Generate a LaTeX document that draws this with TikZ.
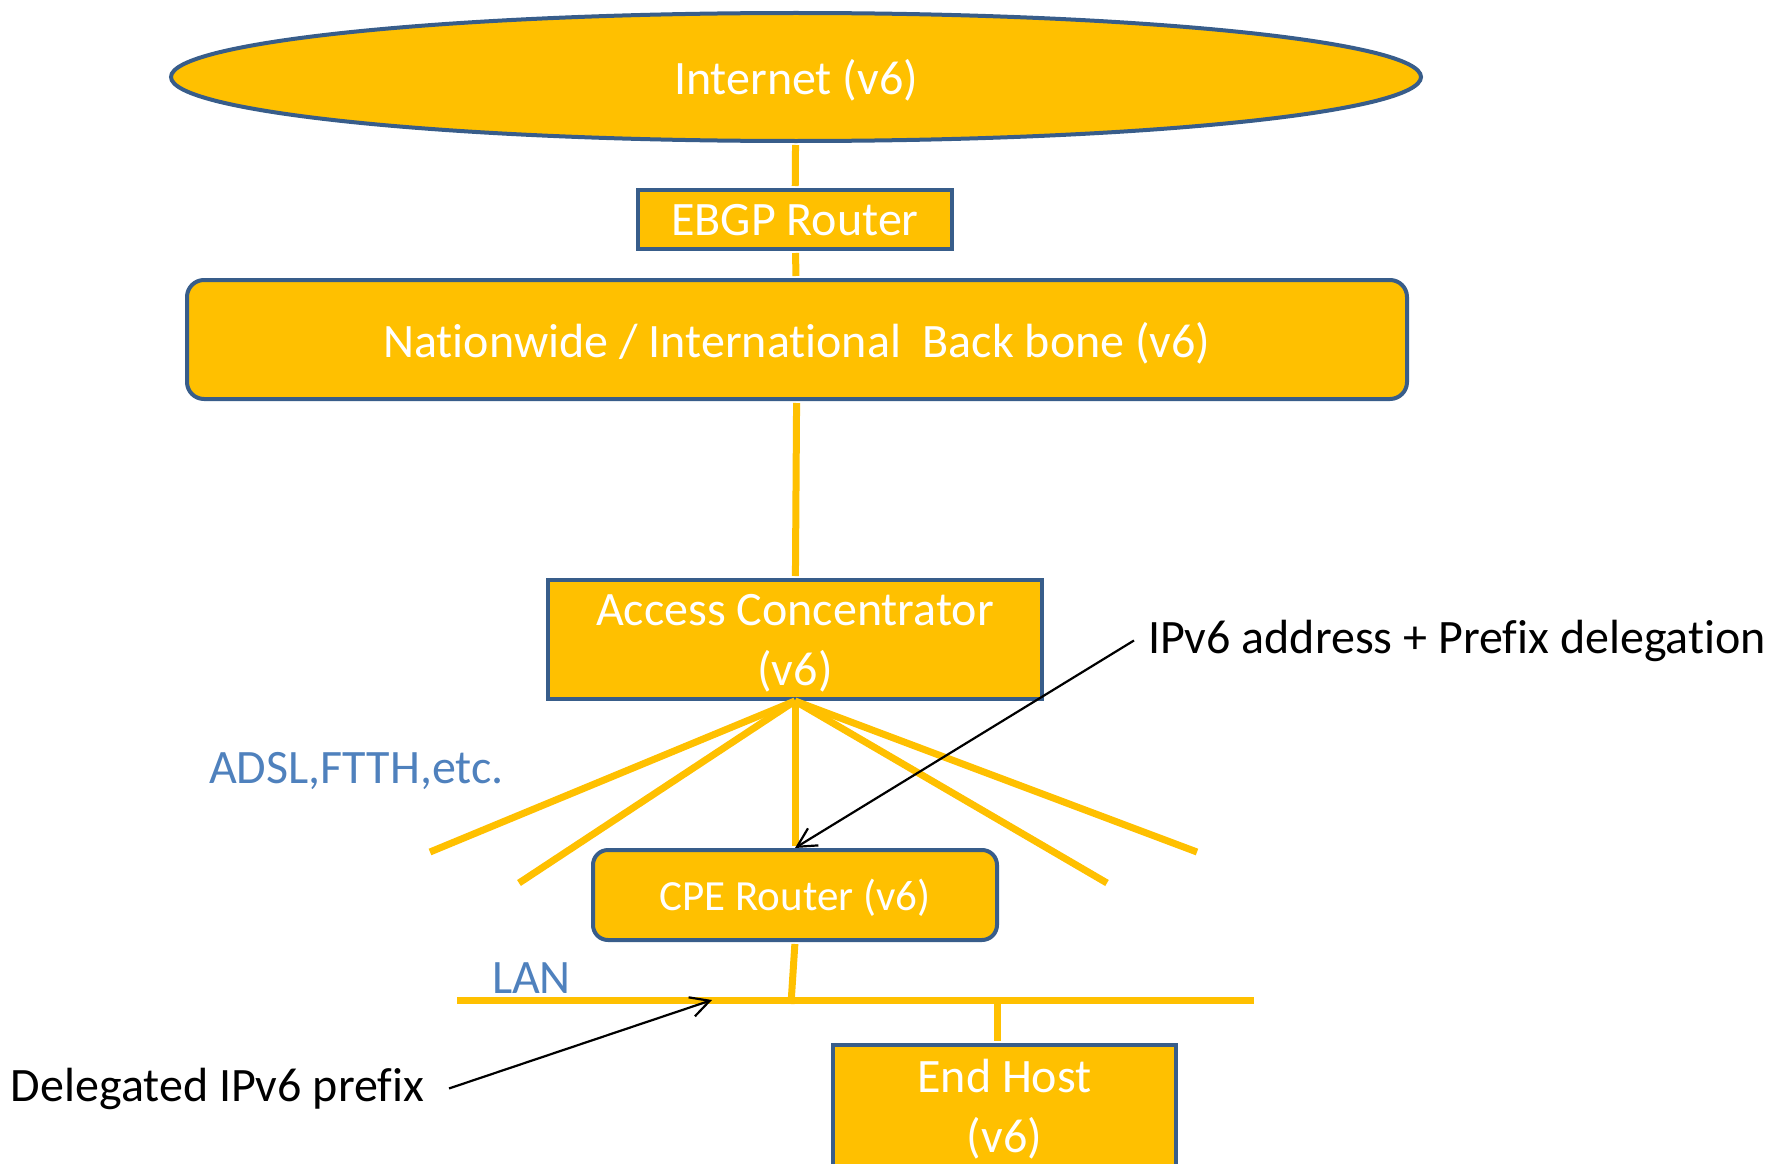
\documentclass[tikz,border=0pt]{standalone}
\usepackage{fontspec}
\setmainfont{Carlito}[Ligatures=NoCommon]
\usetikzlibrary{shapes.geometric,arrows.meta}

\definecolor{netfill}{RGB}{255,192,0}
\definecolor{netline}{RGB}{56,93,138}
\definecolor{netblue}{RGB}{79,129,189}

\tikzset{every picture/.style={line width=4pt}}
\tikzset{
  bigfont/.style={font=\fontsize{48}{60}\selectfont},
  netbox/.style={draw=netline, fill=netfill, text=white, line width=4pt, inner sep=0pt, text depth=0pt, align=center, bigfont},
  link/.style={draw=netfill, line width=7pt},
  pointer/.style={draw=black, line width=2.2pt, -{Straight Barb[length=19pt,width=20pt]}},
}

\begin{document}
\begin{tikzpicture}[x=1pt,y=-1pt]
\useasboundingbox (0,0) rectangle (1773,1164);

%Shape: Ellipse [id:inet]
\node [netbox, ellipse, minimum width=1250pt, minimum height=128pt] (inet) at (796,77) {Internet (v6)};
%Shape: Rectangle [id:ebgp]
\node [netbox, minimum width=314pt, minimum height=59pt] (ebgp) at (795,219.5) {EBGP Router};
%Shape: Rounded Rectangle [id:bb]
\node [netbox, rounded corners=17pt, minimum width=1220pt, minimum height=119pt] (bb) at (797,339.5) {Nationwide / International\ \ Back bone (v6)};
%Shape: Rectangle [id:ac]
\node [netbox, minimum width=494pt, minimum height=119pt] (ac) at (795,639.5) {Access Concentrator\\(v6)};
%Shape: Rounded Rectangle [id:cpe]
\node [netbox, rounded corners=15pt, minimum width=404pt, minimum height=90pt, font=\fontsize{43}{52}\selectfont] (cpe) at (795,895) {CPE Router (v6)};
%Shape: Rectangle [id:host]
\node [netbox, minimum width=343pt, minimum height=122pt] (host) at (1004.5,1106) {End Host\\(v6)};

%free ends of the access lines and the LAN
\coordinate (fanA) at (430,852);
\coordinate (fanB) at (519,883);
\coordinate (fanC) at (1107,883);
\coordinate (fanD) at (1197,852);
\coordinate (lanW) at (457,1000);
\coordinate (lanE) at (1254,1000);
\coordinate (lanC) at (791,1004);
\coordinate (lanH) at (997,1000);
\coordinate (lanP) at (712,1000);

%Straight Lines
\draw [link, shorten <=2pt, shorten >=2pt] (inet) -- (ebgp);
\draw [link, shorten <=2pt, shorten >=2pt] (ebgp) -- (bb);
\draw [link, shorten <=2pt, shorten >=2pt] (bb) -- (ac);
\foreach \f in {fanA,fanB,fanC,fanD}
  \draw [link] (ac.south) -- (\f);
\draw [link, shorten >=2pt] (ac.south) -- (cpe.north);
\draw [link, shorten <=2pt] (cpe.south) -- (lanC);
\draw [link] (lanW) -- (lanE);
\draw [link, shorten >=2pt] (lanH) -- (lanH |- host.north);

% Text Node
\node [anchor=base west, inner sep=0pt, text=netblue, bigfont] (adsl) at (207,783) {ADSL,FTTH,etc.};
% Text Node
\node [anchor=base west, inner sep=0pt, text=netblue, bigfont] (lan) at (490,993) {LAN};
% Text Node
\node [anchor=base west, inner xsep=12pt, inner ysep=0pt, bigfont] (pd) at (1134,653) {IPv6 address + Prefix delegation};
% Text Node
\node [anchor=base east, inner xsep=23pt, inner ysep=0pt, bigfont] (dl) at (449,1101) {Delegated IPv6 prefix};

%Arrows
\draw [pointer] (pd.west) -- (cpe.north);
\draw [pointer] (dl.east) -- (lanP);
\end{tikzpicture}
\end{document}
